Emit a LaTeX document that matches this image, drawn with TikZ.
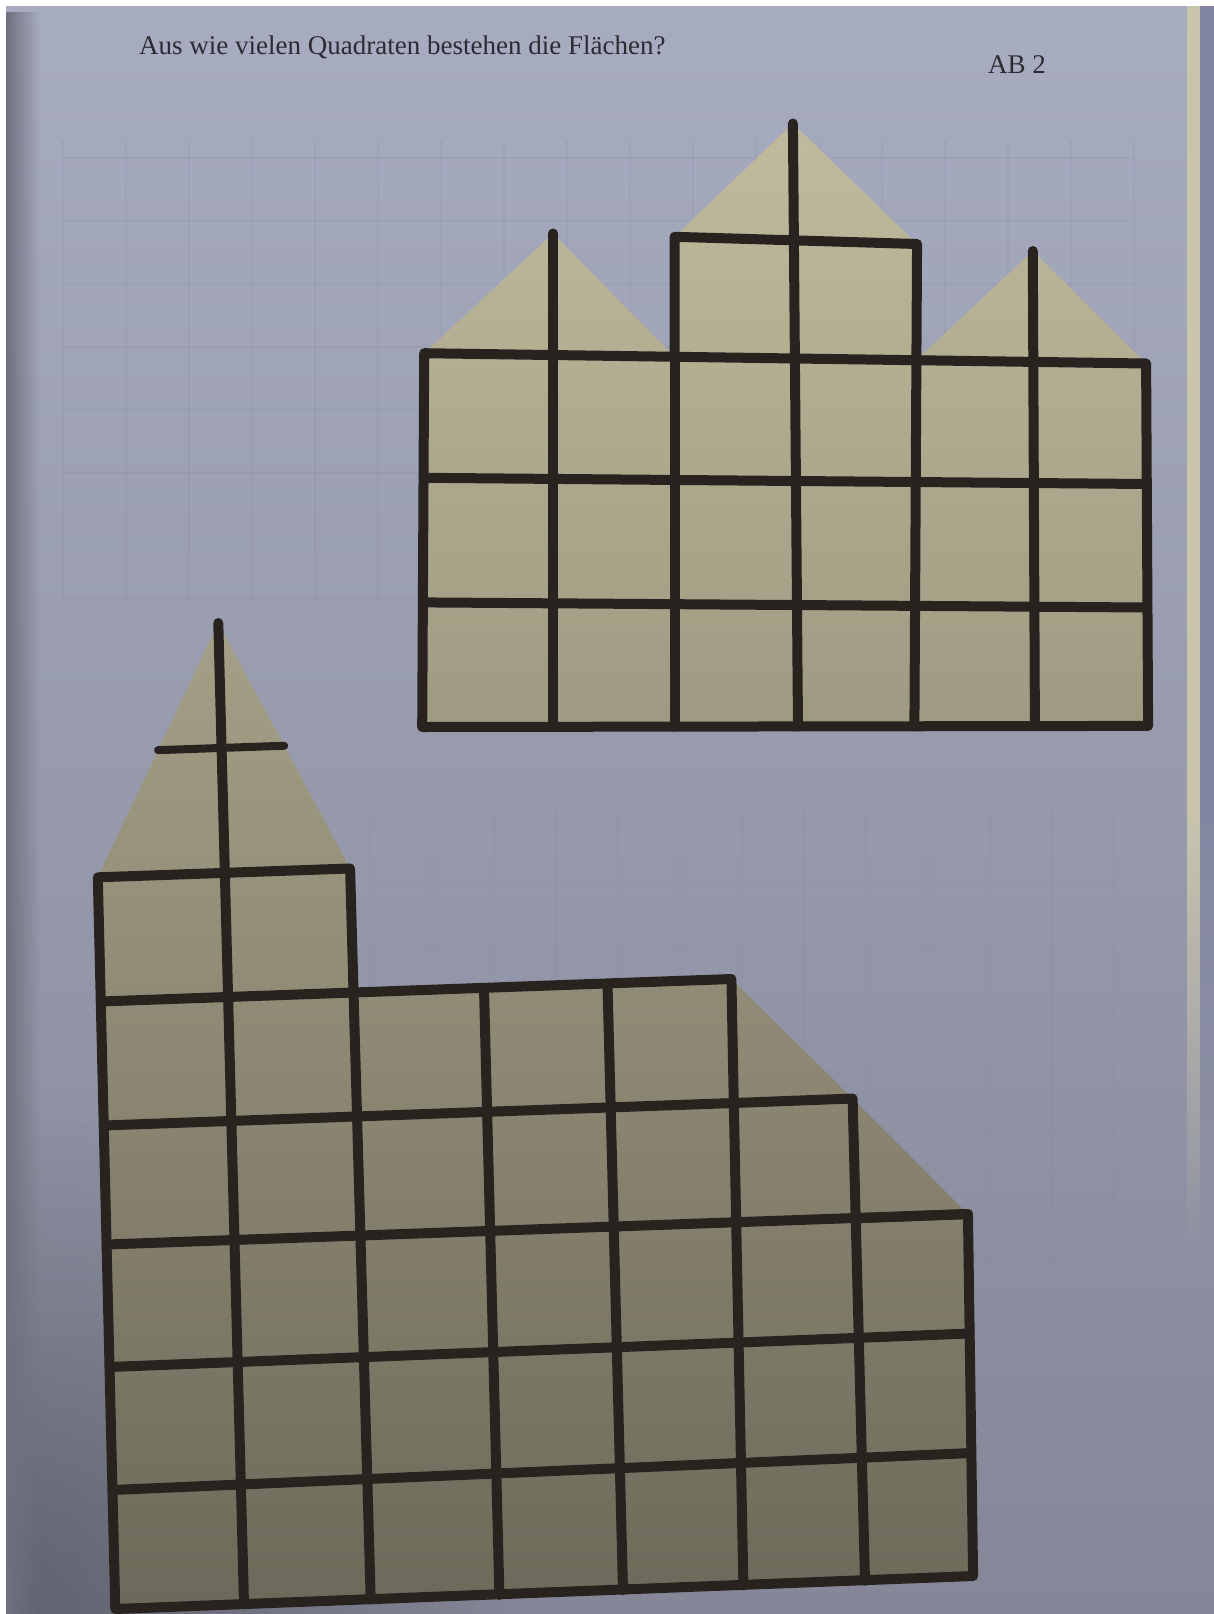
\documentclass[tikz,border=0pt]{standalone}
\usepackage{fontspec}
\setmainfont{Liberation Serif}
\usetikzlibrary{calc,fadings}
\definecolor{pagetop}{HTML}{A8ACC1}
\definecolor{pagemid}{HTML}{9FA2B5}
\definecolor{pagebot}{HTML}{858798}
\definecolor{filltop}{HTML}{C7C2A2}
\definecolor{fillmid}{HTML}{A8A38B}
\definecolor{fillbot}{HTML}{6D695A}
\definecolor{linec}{HTML}{28231F}
\definecolor{textc}{HTML}{2C2B33}
\definecolor{cream}{HTML}{C9C5AC}
\definecolor{edgedark}{HTML}{70717F}
\definecolor{rimdark}{HTML}{8286A0}
\definecolor{faintc}{HTML}{7E8198}
\tikzfading[name=fade right, left color=transparent!0, right color=transparent!100]
\tikzfading[name=fade down, top color=transparent!0, bottom color=transparent!100]
\tikzfading[name=radfade, inner color=transparent!0, outer color=transparent!100]
\begin{document}
\begin{tikzpicture}[x=1pt,y=-1pt,
  bar/.style={line width=10pt, draw=linec, line cap=round, line join=round},
  thinbar/.style={line width=8pt, draw=linec, line cap=round},
  faint/.style={draw=faintc, line width=1.2pt, opacity=0.13},
  label/.style={text=textc, font=\fontsize{27}{31}\selectfont, inner sep=0pt, anchor=base west}]

% ---------- page ----------
\fill[white] (0,0) rectangle (1214,1614);
\useasboundingbox (0,0) rectangle (1214,1614);
\shade[top color=pagetop, middle color=pagemid, bottom color=pagebot] (6,6) rectangle (1214,1614);
\begin{scope}
  \clip (6,6) rectangle (1214,1614);
  \fill[black, opacity=0.28, path fading=radfade] (6,1614) circle (520);
\end{scope}
\fill[edgedark, path fading=fade right] (6,6) rectangle (40,1614);
% right page edge, visible in the upper part only
\fill[rimdark] (1200,6) rectangle (1214,800);
\fill[rimdark, path fading=fade down] (1200,800) rectangle (1214,1250);
\fill[cream] (1187,6) rectangle (1200,800);
\fill[cream, path fading=fade down] (1187,800) rectangle (1200,1250);

% ---------- faint printed grid ----------
\foreach \k in {0,...,17} \draw[faint] (63+63*\k,140) -- (63+63*\k,600);
\foreach \k in {0,...,7} \draw[faint] (63,158+63*\k) -- (1134,158+63*\k);
\foreach \k in {0,...,12} \draw[faint] (370+62*\k,810) -- (370+62*\k,1430);
\foreach \k in {0,...,9} \draw[faint] (370,824+62*\k) -- (1114,824+62*\k);

% ---------- grid points ----------
\def\UB{{422.2,553.0,674.5,798.0,914.4,1034.9,1148.1}}
\def\UT{{424.2,553.0,674.5,796.0,916.4,1033.8,1146.1}}
\def\UL{{727.0,602.4,477.8,353.2,229.6}}
\def\UR{{725.9,607.5,484.0,363.5,251.2}}
\foreach \i in {0,...,6}{
  \foreach \h in {0,...,4}{
    \pgfmathsetmacro{\px}{\UB[\i]+(\UT[\i]-\UB[\i])*\h/3}
    \pgfmathsetmacro{\py}{\UL[\h]+(\UR[\h]-\UL[\h])*\i/6}
    \coordinate (u-\i-\h) at (\px,\py);
  }
}
\coordinate (uaL) at (553.0,233.5);
\coordinate (uaM) at (792.9,123.5);
\coordinate (uaR) at (1032.8,251.0);

\def\LB{{115.3,244.0,370.7,499.4,623.0,743.4,865.0,973.1}}
\def\LT{{97.8,224.5,350.1,480.9,604.4,729.0,846.4,962.8}}
\def\LL{{1609.0,1490.0,1367.0,1244.5,1125.5,1001.5,877.3}}
\def\LR{{1576.0,1453.0,1333.5,1214.0,1094.0,970.0,846.4}}
\foreach \i in {0,...,7}{
  \foreach \h in {0,...,6}{
    \pgfmathsetmacro{\px}{\LB[\i]+(\LT[\i]-\LB[\i])*\h/6}
    \pgfmathsetmacro{\py}{\LL[\h]+(\LR[\h]-\LL[\h])*\i/7}
    \coordinate (l-\i-\h) at (\px,\py);
  }
}
\coordinate (lap) at (218.3,623.0);

% ---------- upper figure ----------
\begin{scope}
  \clip (u-0-0) -- (u-0-3) -- (uaL) -- (u-2-3) -- (u-2-4) -- (uaM) -- (u-4-4)
        -- (u-4-3) -- (uaR) -- (u-6-3) -- (u-6-0) -- cycle;
  \shade[top color=filltop, middle color=fillmid, bottom color=fillbot] (0,0) rectangle (1214,1614);
\end{scope}
\draw[bar] (u-0-0) -- (u-0-3) -- (u-6-3) -- (u-6-0) -- cycle;
\draw[bar] (u-2-3) -- (u-2-4) -- (u-4-4) -- (u-4-3);
\foreach \h in {1,2} \draw[bar] (u-0-\h) -- (u-6-\h);
\draw[bar] (u-1-0) -- (uaL);
\draw[bar] (u-3-0) -- (uaM);
\draw[bar] (u-5-0) -- (uaR);
\draw[bar] (u-2-0) -- (u-2-3);
\draw[bar] (u-4-0) -- (u-4-3);

% ---------- lower figure ----------
\begin{scope}
  \clip (l-0-0) -- (l-0-6) -- (lap) -- (l-2-6) -- (l-2-5) -- (l-5-5) -- (l-6-4)
        -- (l-7-3) -- (l-7-0) -- cycle;
  \shade[top color=filltop, middle color=fillmid, bottom color=fillbot] (0,0) rectangle (1214,1614);
\end{scope}
\draw[bar] (l-0-0) -- (l-0-6) -- (l-2-6) -- (l-2-5) -- (l-5-5) -- (l-5-4) -- (l-6-4)
      -- (l-6-3) -- (l-7-3) -- (l-7-0) -- cycle;
\foreach \h in {1,2,3} \draw[bar] (l-0-\h) -- (l-7-\h);
\draw[bar] (l-0-4) -- (l-5-4);
\draw[bar] (l-0-5) -- (l-2-5);
\draw[bar] (l-1-0) -- (lap);
\draw[bar] (l-2-0) -- (l-2-5);
\draw[bar] (l-3-0) -- (l-3-5);
\draw[bar] (l-4-0) -- (l-4-5);
\draw[bar] (l-5-0) -- (l-5-4);
\draw[bar] (l-6-0) -- (l-6-3);
\draw[thinbar] ($(l-0-6)!0.5!(lap)$) -- ($(l-2-6)!0.5!(lap)$);

% ---------- texts ----------
\node[label] (title) at (139,54) {Aus wie vielen Quadraten bestehen die Flächen?};
\node[label] (ab) at (988,73) {AB 2};
\end{tikzpicture}
\end{document}
